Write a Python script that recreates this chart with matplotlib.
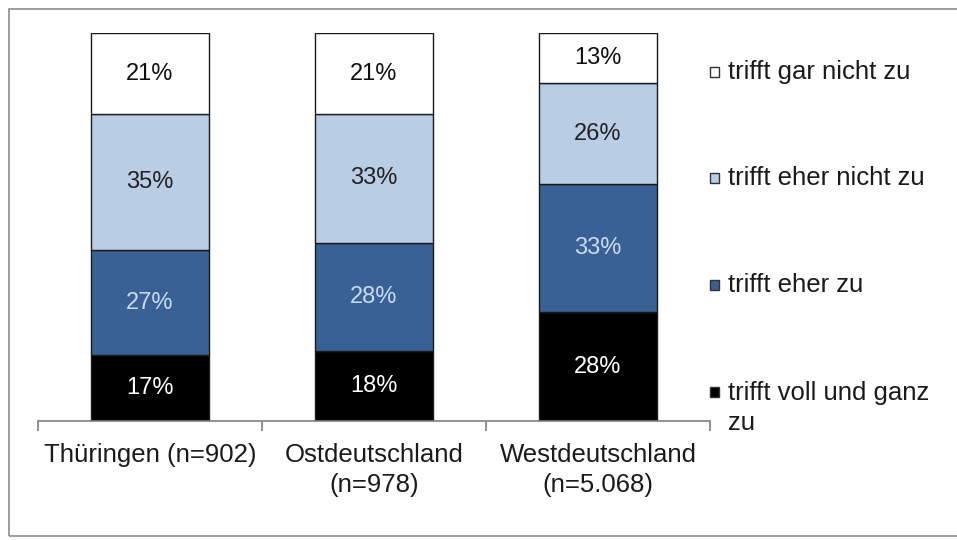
import matplotlib.pyplot as plt
from matplotlib.patches import Rectangle

plt.rcParams['font.family'] = ['Liberation Sans', 'DejaVu Sans']

# data
categories = ['Thüringen (n=902)', 'Ostdeutschland\n(n=978)', 'Westdeutschland\n(n=5.068)']
series_names = ['trifft voll und ganz\nzu', 'trifft eher zu', 'trifft eher nicht zu', 'trifft gar nicht zu']
voll = [17, 18, 28]
eher_zu = [27, 28, 33]
eher_nicht = [35, 33, 26]
gar_nicht = [21, 21, 13]

series = [voll, eher_zu, eher_nicht, gar_nicht]
colors = ['#000000', '#3A6196', '#B9CDE5', '#FFFFFF']
text_colors = ['#FFFFFF', '#C9DBF0', '#222222', '#111111']

fig = plt.figure(figsize=(9.57, 5.4), dpi=100)
W, H = 957, 540

# outer frame
fig.patches.append(Rectangle((9 / W, 4 / H), 960 / W, (531 - 4) / H, transform=fig.transFigure,
                             fill=False, edgecolor='#8c8c8c', linewidth=1.2))

ax = fig.add_axes([38 / W, (H - 421) / H, (710 - 38) / W, (421 - 33) / H])

x = range(len(categories))
bottom = [0, 0, 0]
for vals, col, tcol in zip(series, colors, text_colors):
    bars = ax.bar(x, vals, width=0.53, bottom=bottom, color=col, edgecolor='#1a1a1a', linewidth=1.0)
    for b, v, btm in zip(bars, vals, bottom):
        ax.text(b.get_x() + b.get_width() / 2, btm + v / 2, f'{v}%', ha='center', va='center',
                fontsize=17, color=tcol)
    bottom = [b0 + v for b0, v in zip(bottom, vals)]

ax.set_xlim(-0.5, 2.5)
ax.set_ylim(0, 100)
ax.set_yticks([])
for s in ['top', 'right', 'left']:
    ax.spines[s].set_visible(False)
ax.spines['bottom'].set_color('#7f7f7f')
ax.spines['bottom'].set_linewidth(1.2)

# category ticks between groups
ax.set_xticks([-0.5, 0.5, 1.5, 2.5], minor=True)
ax.tick_params(axis='x', which='minor', length=7, color='#7f7f7f', width=1.2)
ax.set_xticks(list(x))
ax.set_xticklabels(categories, fontsize=18.5, color='#1a1a1a', linespacing=1.28)
ax.tick_params(axis='x', which='major', length=0, pad=16)

# legend (top entry is last series)
leg_y = [72, 178, 285, 392]
for name, col, ly in zip(series_names[::-1], colors[::-1], leg_y):
    fig.patches.append(Rectangle((710 / W, (H - ly - 5) / H), 9 / W, 10 / H, transform=fig.transFigure,
                                 facecolor=col, edgecolor='#333333', linewidth=1))
    if '\n' in name:
        fig.text(728 / W, (H - ly + 11) / H, name, fontsize=18.5, color='#1a1a1a', va='top',
                 linespacing=1.3)
    else:
        fig.text(728 / W, (H - ly) / H, name, fontsize=18.5, color='#1a1a1a', va='center')

fig.savefig('out.png', dpi=100)
